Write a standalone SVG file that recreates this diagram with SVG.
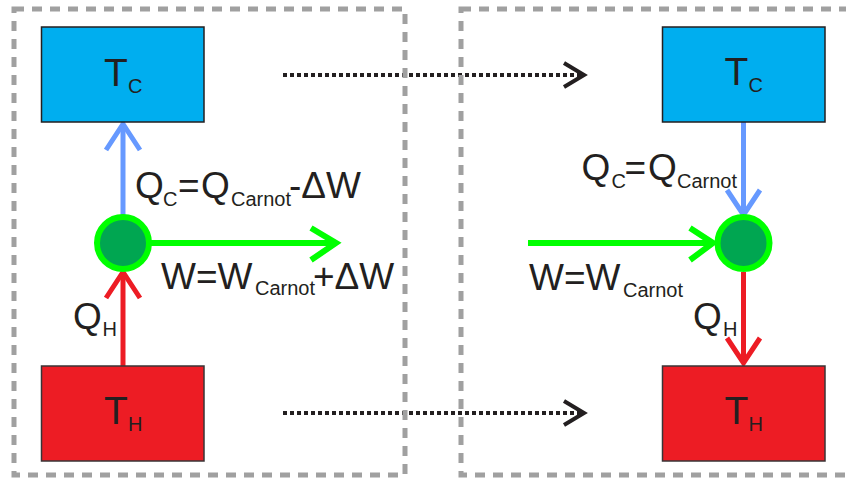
<svg xmlns="http://www.w3.org/2000/svg" width="846" height="479" viewBox="0 0 846 479">
<style>
.frame{fill:none;stroke:#A0A0A0;stroke-width:5;stroke-dasharray:10 8}
.cold{fill:#00AEEF;stroke:#231F20;stroke-width:1.5}
.hot{fill:#ED1C24;stroke:#3A3436;stroke-width:1.5}
.eng{fill:#00A651;stroke:#00FF00;stroke-width:6}
.t{font-family:"Liberation Sans",Arial,sans-serif;fill:#231F20}
.big{font-size:39px}
.lab{font-size:37px}
.sub{font-size:20px}
.blue{stroke:#6699FF;stroke-width:5;fill:none}
.red{stroke:#ED1C24;stroke-width:5;fill:none}
.green{stroke:#00FF00;stroke-width:6;fill:none}
.dot{stroke:#231F20;stroke-width:4;stroke-dasharray:4 3;fill:none}
.dhead{stroke:#231F20;stroke-width:4;fill:none}
</style>
<g id="connectors">
  <line class="dot" x1="283" y1="75" x2="582" y2="75"/>
  <polyline class="dhead" points="564,63 584,75 564,87"/>
  <line class="dot" x1="283" y1="413" x2="582" y2="413"/>
  <polyline class="dhead" points="564,401 584,413 564,425"/>
  <line class="blue" x1="123" y1="215" x2="123" y2="124"/>
  <polyline class="blue" points="106,150 123,124 140,150"/>
  <line class="red" x1="123" y1="366" x2="123" y2="273"/>
  <polyline class="red" points="106,298 123,272 140,298"/>
  <line class="green" x1="151" y1="243" x2="336" y2="243"/>
  <polyline class="green" points="311,228 336,243 311,260"/>
  <line class="blue" x1="743.5" y1="122" x2="743.5" y2="213"/>
  <polyline class="blue" points="727,190 743.5,215 760,190"/>
  <line class="red" x1="743.5" y1="272" x2="743.5" y2="363"/>
  <polyline class="red" points="727,338 743.5,363 760,338"/>
  <line class="green" x1="528" y1="243" x2="712" y2="243"/>
  <polyline class="green" points="690,228 713,243 690,260"/>
</g>
<g id="frames">
  <rect class="frame" x="14" y="9" width="391" height="466"/>
  <rect class="frame" x="461" y="9" width="400" height="466"/>
</g>
<g id="tc-left">
  <rect class="cold" x="41.5" y="27" width="162.5" height="95"/>
  <text class="t big" x="104" y="86">T</text><text class="t sub" x="128" y="93">C</text>
</g>
<g id="th-left">
  <rect class="hot" x="41.5" y="366" width="162.5" height="95"/>
  <text class="t big" x="104" y="424">T</text><text class="t sub" x="128" y="431">H</text>
</g>
<g id="engine-left">
  <circle class="eng" cx="123" cy="243" r="26"/>
</g>
<g id="tc-right">
  <rect class="cold" x="662.5" y="27" width="162.5" height="95"/>
  <text class="t big" x="724.5" y="85">T</text><text class="t sub" x="748.5" y="92">C</text>
</g>
<g id="th-right">
  <rect class="hot" x="662.5" y="366" width="162.5" height="95"/>
  <text class="t big" x="724.5" y="424">T</text><text class="t sub" x="748.5" y="431">H</text>
</g>
<g id="engine-right">
  <circle class="eng" cx="743.5" cy="243" r="26"/>
</g>
<g id="labels">
  <text class="t lab" x="135" y="198">Q</text>
  <text class="t sub" x="163" y="206">C</text>
  <text class="t lab" x="178" y="198">=</text>
  <text class="t lab" x="201" y="198">Q</text>
  <text class="t sub" x="231" y="206">Carnot</text>
  <text class="t lab" x="289" y="198">-ΔW</text>

  <text class="t lab" x="161" y="289">W=W</text>
  <text class="t sub" x="255" y="295">Carnot</text>
  <text class="t lab" x="313" y="289">+ΔW</text>

  <text class="t lab" x="73" y="329">Q</text>
  <text class="t sub" x="102.5" y="336">H</text>

  <text class="t lab" x="581.5" y="180">Q</text>
  <text class="t sub" x="611.5" y="188">C</text>
  <text class="t lab" x="624.5" y="180">=</text>
  <text class="t lab" x="648" y="180">Q</text>
  <text class="t sub" x="677" y="188">Carnot</text>

  <text class="t lab" x="529" y="290">W=W</text>
  <text class="t sub" x="623" y="297">Carnot</text>

  <text class="t lab" x="693" y="329">Q</text>
  <text class="t sub" x="723" y="336">H</text>
</g>
</svg>
